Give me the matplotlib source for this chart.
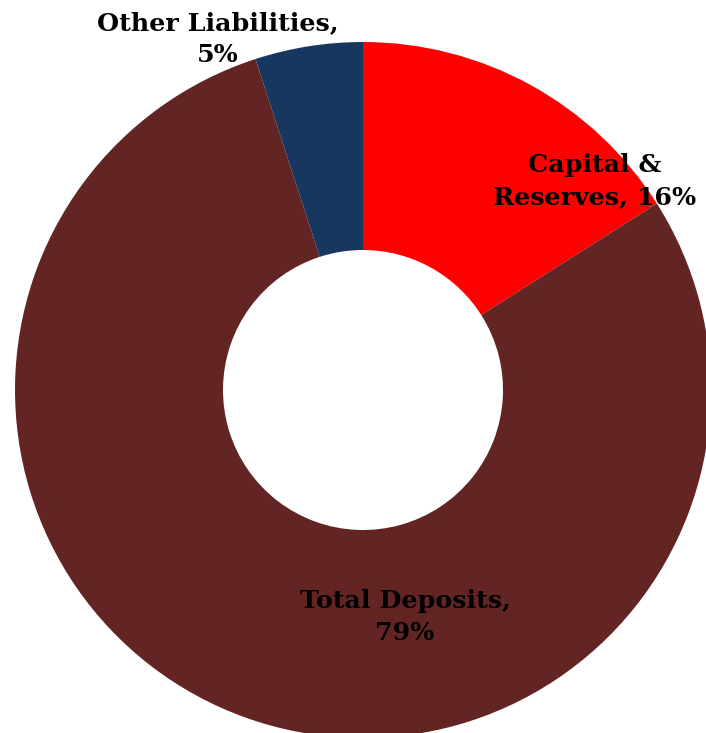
import matplotlib
matplotlib.use("Agg")
import matplotlib.pyplot as plt

categories = ["Capital &\nReserves", "Total Deposits", "Other Liabilities"]
shares = [16, 79, 5]
colors = ["#FF0000", "#632424", "#17375E"]

W, H = 706, 733
fig = plt.figure(figsize=(W / 100, H / 100), dpi=100)
fig.patch.set_facecolor("white")

# pie centre and radius in pixels
cx, cy, r = 363, 390, 348
ax = fig.add_axes([(cx - r) / W, (H - cy - r) / H, 2 * r / W, 2 * r / H])
ax.pie(shares, colors=colors, startangle=90, counterclock=False, radius=1,
       wedgeprops=dict(width=1 - 140 / r, linewidth=0))
ax.set_xlim(-1, 1)
ax.set_ylim(-1, 1)
ax.axis("off")

def px(x, y):
    return (x - cx) / r, (cy - y) / r

label_pos = [px(595, 181), px(405, 617), px(218, 39)]
labels = ["Capital &\nReserves, {}%", "Total Deposits,\n{}%", "Other Liabilities,\n{}%"]
for txt, v, (x, y) in zip(labels, shares, label_pos):
    ax.text(x, y, txt.format(v), ha="center", va="center", fontsize=18.3,
            fontweight="bold", family="DejaVu Serif", color="black",
            linespacing=1.42, clip_on=False)

fig.savefig("out.png", dpi=100)
